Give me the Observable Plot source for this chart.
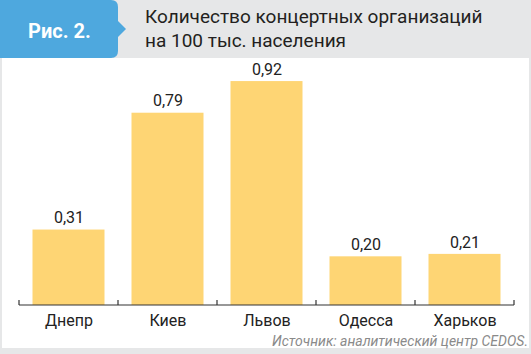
<!DOCTYPE html>
<html><head><meta charset="utf-8">
<script src="https://cdn.jsdelivr.net/npm/d3@7"></script>
<script src="https://cdn.jsdelivr.net/npm/@observablehq/plot@0.6"></script>
<style>
body{margin:0;background:#e6e7e8;}
#wrap{position:relative;width:531px;height:354px;background:#e6e7e8;overflow:hidden;font-family:Roboto,sans-serif;}
#panel{position:absolute;left:2px;top:58px;width:527px;height:290px;background:#fff;}
#tab{position:absolute;left:0;top:0;}
#tabtext{position:absolute;left:28px;top:19px;color:#fff;font-weight:bold;font-size:20px;white-space:nowrap;}
#title{position:absolute;left:145px;top:5px;font-size:19px;line-height:23.5px;color:#231f20;white-space:nowrap;}
#caption{position:absolute;right:3px;top:332.5px;font-size:14px;font-style:italic;color:#8a8a8a;white-space:nowrap;text-align:right;}
#chart{position:absolute;left:0;top:0;}
</style></head>
<body>
<div id="wrap">
  <div id="panel"></div>
  <svg id="tab" width="130" height="60"><path d="M0,0H111Q118,0 118,7V21L126,29L118,37V51Q118,58 111,58H0Z" fill="#4ea8de"/></svg>
  <div id="tabtext">Рис. 2.</div>
  <div id="title">Количество концертных организаций<br>на 100 тыс. населения</div>
  <div id="chart"></div>
  <div id="caption">Источник: аналитический центр CEDOS.</div>
</div>
<script>
const cities = ["Днепр", "Киев", "Львов", "Одесса", "Харьков"];
const values = [0.31, 0.79, 0.92, 0.20, 0.21];
const valueLabels = ["0,31", "0,79", "0,92", "0,20", "0,21"];

const data = cities.map((c, i) => ({city: c, value: values[i], label: valueLabels[i]}));

function axisLine(index, scales) {
  const x = scales.x, y = scales.y;
  const bw = x.bandwidth();
  const xs = cities.map(c => x(c));
  xs.push(x(cities[cities.length - 1]) + bw);
  const y0 = y(0);
  const g = d3.create("svg:g").attr("stroke", "#333").attr("stroke-width", 1.2).attr("fill", "none");
  g.append("path").attr("d", `M${xs[0]},${y0}H${xs[xs.length - 1]}`);
  for (const xx of xs) g.append("path").attr("d", `M${xx},${y0}V${y0 - 5}`);
  return g.node();
}

const chart = Plot.plot({
  width: 531,
  height: 354,
  marginLeft: 18.7,
  marginRight: 17.3,
  marginTop: 61.6,
  marginBottom: 49,
  style: {fontFamily: "Roboto, sans-serif", fontSize: "16px", background: "transparent", color: "#222", overflow: "visible"},
  x: {type: "band", domain: cities, padding: 0, axis: null},
  y: {domain: [0, 1], axis: null},
  marks: [
    Plot.barY(data, {x: "city", y: "value", fill: "#fed574", insetLeft: 13.5, insetRight: 13.5}),
    Plot.text(data, {x: "city", y: "value", text: "label", dy: -12, fontSize: 16, fill: "#222"}),
    Plot.text(data, {x: "city", y: () => 0, text: "city", lineAnchor: "top", dy: 9, fontSize: 16, fill: "#222"}),
    axisLine
  ]
});
document.getElementById("chart").appendChild(chart);
</script>
</body></html>
